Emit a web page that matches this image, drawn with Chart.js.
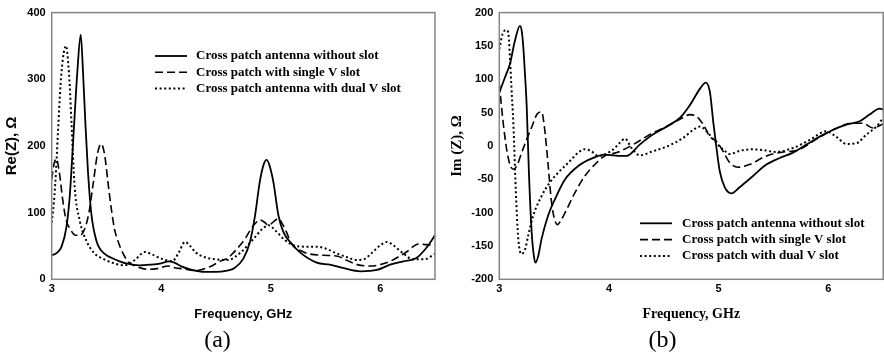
<!DOCTYPE html>
<html><head><meta charset="utf-8">
<script src="https://cdn.jsdelivr.net/npm/chart.js@4"></script>
<style>
html,body{margin:0;padding:0;background:#fff;}
#wrap{position:relative;width:884px;height:353px;overflow:hidden;background:#fff;}
canvas{position:absolute;top:0;}
#ca{left:0;}
#cb{left:442px;}
</style></head><body>
<div id="wrap"><canvas id="ca" width="442" height="353"></canvas><canvas id="cb" width="442" height="353"></canvas></div>
<script>
// ---------- Panel (a): Re(Z) ----------
const reLabels = ['Cross patch antenna without slot', 'Cross patch with single V slot', 'Cross patch antenna with dual V slot'];
const reNoSlotF = [3.0,3.05,3.09,3.134,3.164,3.185,3.21,3.234,3.265,3.286,3.307,3.331,3.362,3.408,3.484,3.55,3.62,3.7,3.8,3.9,4.0,4.07,4.12,4.19,4.28,4.4,4.5,4.6,4.67,4.75,4.81,4.857,4.9,4.935,4.963,4.99,5.024,5.07,5.115,5.176,5.27,5.42,5.54,5.66,5.82,5.97,6.09,6.21,6.33,6.42,6.5];
const reNoSlot  = [36,40,49,78,123,177,247,311,367,311,236,162,98,58,38,32,27,23,21,22,24,27,25,19,14,11,11,13,17,31,56,96,146,172,179,170,146,96,71,56,40,25,22,17,12,14,22,27,32,47,66];
const reSingleF = [3.0,3.02,3.042,3.07,3.1,3.13,3.17,3.22,3.26,3.3,3.34,3.38,3.42,3.453,3.485,3.514,3.545,3.575,3.606,3.636,3.7,3.78,3.88,3.96,4.065,4.13,4.19,4.31,4.446,4.55,4.6,4.66,4.72,4.77,4.81,4.86,4.9,4.94,4.98,5.03,5.07,5.11,5.146,5.18,5.3,5.48,5.6,5.7,5.79,5.91,6.0,6.09,6.17,6.24,6.35,6.42,6.5];
const reSingle  = [150,172,181,160,120,90,75,66,66,75,100,145,190,203,185,145,105,74,57,44,26,19,15,16,20,17,16,13,19,28,31,40,51,62,73,84,89,86,81,87,91,82,70,56,41,36,35,28,22,20,22,27,34,41,53,52,51];
const reDualF = [3.0,3.02,3.04,3.06,3.08,3.1,3.118,3.133,3.15,3.165,3.18,3.21,3.256,3.316,3.39,3.48,3.55,3.67,3.76,3.85,3.92,4.0,4.1,4.16,4.217,4.27,4.31,4.4,4.5,4.61,4.73,4.85,4.92,4.98,5.05,5.12,5.206,5.3,5.42,5.52,5.6,5.7,5.785,5.85,5.92,6.0,6.06,6.12,6.2,6.3,6.4,6.5];
const reDual  = [85,115,165,230,290,328,346,350,325,290,237,138,88,58,39,30,25,21,29,41,37,31,27,40,56,49,41,33,30,29,41,62,75,81,72,60,51,49,49,45,39,33,29,30,39,51,56,51,40,30,30,38];

// ---------- Panel (b): Im(Z) ----------
const imLabels = ['Cross patch antenna without slot', 'Cross patch with single V slot', 'Cross patch with dual V slot'];
const imNoSlotF = [3.0,3.052,3.097,3.143,3.188,3.205,3.219,3.235,3.25,3.27,3.295,3.315,3.33,3.355,3.386,3.446,3.507,3.6,3.72,3.84,3.96,4.04,4.1,4.16,4.28,4.4,4.525,4.646,4.737,4.83,4.883,4.92,4.95,4.98,5.01,5.056,5.117,5.19,5.313,5.435,5.556,5.678,5.8,5.92,6.04,6.164,6.285,6.376,6.467,6.5];
const imNoSlot  = [80,103,123,158,180,172,148,105,59,-40,-129,-165,-175,-165,-139,-104,-80,-50,-30,-19,-13,-14,-15,-15,2,17,29,42,61,86,95,81,37,-3,-38,-62,-71,-62,-45,-28,-18,-10,2,14,24,32,37,47,56,55];
const imSingleF = [3.0,3.036,3.067,3.097,3.128,3.16,3.2,3.25,3.3,3.345,3.386,3.41,3.446,3.47,3.49,3.53,3.56,3.6,3.69,3.78,3.87,3.96,4.07,4.22,4.37,4.525,4.646,4.737,4.8,4.86,4.92,4.98,5.04,5.1,5.177,5.28,5.435,5.59,5.71,5.86,6.04,6.22,6.315,6.406,6.5];
const imSingle  = [93,34,-5,-28,-35,-30,-12,10,30,48,51,30,-30,-75,-100,-118,-112,-100,-70,-45,-28,-15,-10,2,17,29,40,47,44,32,14,7,-8,-25,-32,-28,-15,-9,-7,7,24,34,34,27,33];
const imDualF = [3.0,3.03,3.067,3.085,3.097,3.11,3.128,3.15,3.173,3.204,3.235,3.264,3.31,3.386,3.46,3.537,3.63,3.72,3.78,3.84,3.9,3.96,4.04,4.1,4.145,4.205,4.28,4.4,4.525,4.676,4.767,4.83,4.89,4.965,5.04,5.1,5.2,5.3,5.4,5.52,5.678,5.83,5.98,6.07,6.164,6.255,6.346,6.437,6.5];
const imDual  = [145,168,174,165,133,90,34,-65,-139,-162,-155,-134,-104,-75,-55,-40,-25,-10,-5,-8,-15,-13,-5,5,11,-3,-14,-8,-1,12,24,29,22,7,-5,-12,-7,-5,-6,-9,-3,9,22,14,3,4,17,29,42];

const xTickMin = 3, xTickMax = 6.5, xStep = 1;
const reMin = 0, reMax = 400, reStep = 100;
const imMin = -200, imMax = 200, imStep = 50;

function pts(xs, ys) { return xs.map((x, i) => ({x: x, y: ys[i]})); }

const styles = [
  {borderDash: [], borderWidth: 1.8},
  {borderDash: [8, 4], borderWidth: 1.6},
  {borderDash: [2, 2.6], borderWidth: 2}
];

const frameLegend = {
  id: 'frameLegend',
  afterDatasetsDraw(chart, args, o) {
    const ctx = chart.ctx, a = chart.chartArea;
    ctx.save();
    ctx.strokeStyle = '#858585';
    ctx.lineWidth = 1.5;
    ctx.setLineDash([]);
    ctx.strokeRect(a.left, a.top, a.right - a.left, a.bottom - a.top);
    ctx.font = 'bold 13px "Liberation Serif", "Times New Roman", serif';
    ctx.textBaseline = 'middle';
    ctx.textAlign = 'left';
    chart.data.datasets.forEach((ds, i) => {
      const y = o.top + i * o.rowGap;
      ctx.beginPath();
      ctx.setLineDash(ds.borderDash || []);
      ctx.lineWidth = ds.borderWidth;
      ctx.strokeStyle = '#000';
      ctx.moveTo(o.left, y);
      ctx.lineTo(o.left + o.lineLen, y);
      ctx.stroke();
      ctx.setLineDash([]);
      ctx.fillStyle = '#000';
      ctx.fillText(ds.label, o.left + o.lineLen + o.textGap, y);
    });
    ctx.restore();
  }
};

function build(canvasId, series, cfg) {
  const datasets = series.map((s, i) => ({
    label: s.label,
    data: pts(s.f, s.v),
    borderColor: '#000',
    borderWidth: styles[i].borderWidth,
    borderDash: styles[i].borderDash,
    pointRadius: 0,
    fill: false,
    cubicInterpolationMode: 'monotone'
  }));
  return new Chart(document.getElementById(canvasId), {
    type: 'line',
    data: {datasets: datasets},
    plugins: [frameLegend],
    options: {
      responsive: false,
      animation: false,
      devicePixelRatio: 1,
      layout: {padding: {left: 0, right: cfg.padRight, top: cfg.padTop, bottom: 0}},
      plugins: {
        legend: {display: false},
        tooltip: {enabled: false},
        title: {
          display: true, text: cfg.panel, position: 'bottom',
          color: '#000', padding: {top: 0, bottom: 0},
          font: {family: '"Liberation Serif", "Times New Roman", serif', size: 24, weight: 'normal', lineHeight: 1}
        },
        frameLegend: cfg.legend
      },
      scales: {
        x: {
          type: 'linear', min: xTickMin, max: xTickMax,
          grid: {display: false, drawTicks: false},
          border: {display: false},
          ticks: {stepSize: xStep, includeBounds: false, padding: 3, color: '#000',
                  font: {family: '"Liberation Sans", Arial, sans-serif', size: 11, weight: 'bold'}},
          title: {display: true, text: 'Frequency, GHz', color: '#000', padding: {top: 0, bottom: cfg.xTitlePad},
                  font: {family: cfg.xTitleFont, size: cfg.xTitleSize, weight: 'bold'}},
          afterFit: s => { s.height = cfg.xHeight; }
        },
        y: {
          type: 'linear', min: cfg.yMin, max: cfg.yMax,
          grid: {display: false, drawTicks: false},
          border: {display: false},
          ticks: {stepSize: cfg.yStep, padding: 6, color: '#000',
                  font: {family: '"Liberation Sans", Arial, sans-serif', size: 11, weight: 'bold'}},
          title: {display: true, text: cfg.yTitle, color: '#000', padding: {top: cfg.yTitlePad, bottom: 0},
                  font: {family: cfg.yTitleFont, size: 15, weight: 'bold'}},
          afterFit: s => { s.width = cfg.yWidth; }
        }
      }
    }
  });
}

build('ca', [
  {label: reLabels[0], f: reNoSlotF, v: reNoSlot},
  {label: reLabels[1], f: reSingleF, v: reSingle},
  {label: reLabels[2], f: reDualF, v: reDual}
], {
  panel: '(a)', yMin: reMin, yMax: reMax, yStep: reStep,
  yTitle: 'Re(Z), Ω', yTitleFont: '"Liberation Sans", Arial, sans-serif', yTitlePad: 3,
  xTitleFont: '"Liberation Sans", Arial, sans-serif', xTitleSize: 13, xTitlePad: 7,
  padRight: 7, padTop: 10.7, yWidth: 51.7, xHeight: 49.7,
  legend: {left: 155, top: 56, rowGap: 16.3, lineLen: 32, textGap: 9}
});

build('cb', [
  {label: imLabels[0], f: imNoSlotF, v: imNoSlot},
  {label: imLabels[1], f: imSingleF, v: imSingle},
  {label: imLabels[2], f: imDualF, v: imDual}
], {
  panel: '(b)', yMin: imMin, yMax: imMax, yStep: imStep,
  yTitle: 'Im (Z), Ω', yTitleFont: '"Liberation Serif", "Times New Roman", serif', yTitlePad: 6,
  xTitleFont: '"Liberation Serif", "Times New Roman", serif', xTitleSize: 14, xTitlePad: 6,
  padRight: 0.8, padTop: 10, yWidth: 57.3, xHeight: 49.7,
  legend: {left: 198, top: 223.3, rowGap: 16.3, lineLen: 32, textGap: 10}
});
</script>
</body></html>
